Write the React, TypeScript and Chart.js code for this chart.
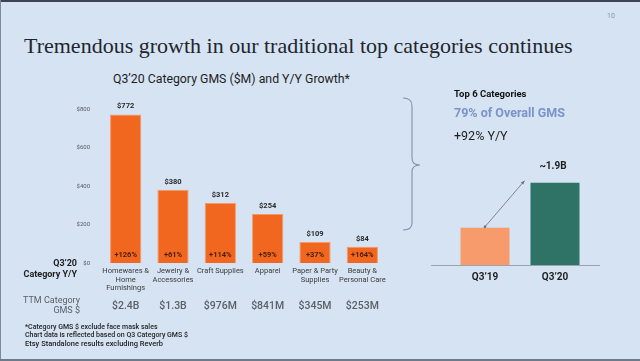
import React, { useEffect, useRef } from "react";
import { Chart, registerables } from "chart.js";

Chart.register(...registerables);

const categories: string[][] = [
  ["Homewares &", "Home", "Furnishings"],
  ["Jewelry &", "Accessories"],
  ["Craft Supplies"],
  ["Apparel"],
  ["Paper & Party", "Supplies"],
  ["Beauty &", "Personal Care"],
];
const gmsValues = [772, 380, 312, 254, 109, 84];
const growthLabels = ["+126%", "+61%", "+114%", "+59%", "+37%", "+164%"];
const ttmLabels = ["$2.4B", "$1.3B", "$976M", "$841M", "$345M", "$253M"];
const yTickMax = 800;
const yTickStep = 200;

const totalPeriods = ["Q3’19", "Q3’20"];
const totalValues = [0.86, 1.9];
const totalTopLabel = "~1.9B";

const FONT = "Roboto, 'Noto Sans', sans-serif";

const leftLabelsPlugin = {
  id: "leftLabels",
  afterDatasetsDraw(chart: any) {
    const ctx = chart.ctx;
    const meta = chart.getDatasetMeta(0);
    const area = chart.chartArea;
    ctx.save();
    ctx.textAlign = "center";
    ctx.textBaseline = "middle";
    meta.data.forEach((bar: any, i: number) => {
      ctx.font = `bold 7.5px ${FONT}`;
      ctx.fillStyle = "#2a2a2a";
      ctx.fillText("$" + gmsValues[i], bar.x, bar.y - 8);
      ctx.fillStyle = "#4a1c0a";
      ctx.fillText(growthLabels[i], bar.x, area.bottom - 7.5);
      ctx.font = `500 10.5px ${FONT}`;
      ctx.fillStyle = "#5b6066";
      ctx.fillText(ttmLabels[i], bar.x, 216);
    });
    ctx.restore();
  },
};

const rightLabelsPlugin = {
  id: "rightLabels",
  afterDatasetsDraw(chart: any) {
    const ctx = chart.ctx;
    const meta = chart.getDatasetMeta(0);
    const b0 = meta.data[0];
    const b1 = meta.data[1];
    ctx.save();
    ctx.textAlign = "center";
    ctx.textBaseline = "middle";
    ctx.font = `bold 10px ${FONT}`;
    ctx.fillStyle = "#1e1e1e";
    ctx.fillText(totalTopLabel, b1.x - 2, b1.y - 16);
    const x0 = b0.x;
    const y0 = b0.y - 1;
    const x1 = b1.x - b1.width / 2 - 6;
    const y1 = b1.y - 2;
    ctx.strokeStyle = "#666d75";
    ctx.fillStyle = "#666d75";
    ctx.lineWidth = 0.8;
    ctx.beginPath();
    ctx.moveTo(x0, y0);
    ctx.lineTo(x1, y1);
    ctx.stroke();
    ctx.beginPath();
    ctx.arc(x0, y0, 1.3, 0, Math.PI * 2);
    ctx.fill();
    const ang = Math.atan2(y1 - y0, x1 - x0);
    ctx.beginPath();
    ctx.moveTo(x1, y1);
    ctx.lineTo(x1 - 4 * Math.cos(ang - 0.4), y1 - 4 * Math.sin(ang - 0.4));
    ctx.lineTo(x1 - 4 * Math.cos(ang + 0.4), y1 - 4 * Math.sin(ang + 0.4));
    ctx.closePath();
    ctx.fill();
    ctx.restore();
  },
};

function LeftChart() {
  const ref = useRef<HTMLCanvasElement>(null);
  useEffect(() => {
    const chart = new Chart(ref.current as HTMLCanvasElement, {
      type: "bar",
      data: {
        labels: categories,
        datasets: [
          {
            data: gmsValues,
            backgroundColor: "#f2671f",
            borderColor: "#f49a66",
            borderWidth: 1,
            categoryPercentage: 1,
            barPercentage: 0.66,
          },
        ],
      },
      options: {
        responsive: false,
        animation: false,
        devicePixelRatio: 1,
        layout: { padding: { top: 19, right: 14, left: 0, bottom: 0 } },
        plugins: { legend: { display: false }, tooltip: { enabled: false } },
        scales: {
          x: {
            grid: { display: false, drawTicks: false },
            border: { display: false },
            afterFit: (s: any) => {
              s.height = 52;
            },
            ticks: {
              autoSkip: false,
              maxRotation: 0,
              minRotation: 0,
              padding: 4,
              color: "#3c3c3c",
              font: { family: FONT, size: 7.5, lineHeight: 1.15 },
            },
          },
          y: {
            min: 0,
            max: yTickMax,
            grid: { display: false, drawTicks: false },
            border: { display: false },
            afterFit: (s: any) => {
              s.width = 102;
            },
            ticks: {
              stepSize: yTickStep,
              padding: 12,
              color: "#5a5a5a",
              font: { family: FONT, size: 6 },
              callback: (v: any) => "$" + v,
            },
          },
        },
      },
      plugins: [leftLabelsPlugin],
    } as any);
    return () => chart.destroy();
  }, []);
  return (
    <canvas
      ref={ref}
      width={400}
      height={225}
      style={{ position: "absolute", left: 0, top: 90, width: 400, height: 225 }}
    />
  );
}

function RightChart() {
  const ref = useRef<HTMLCanvasElement>(null);
  useEffect(() => {
    const chart = new Chart(ref.current as HTMLCanvasElement, {
      type: "bar",
      data: {
        labels: totalPeriods,
        datasets: [
          {
            data: totalValues,
            backgroundColor: ["#f89b6c", "#2e7366"],
            categoryPercentage: 1,
            barPercentage: 0.7,
          },
        ],
      },
      options: {
        responsive: false,
        animation: false,
        devicePixelRatio: 1,
        layout: { padding: { top: 28.4, right: 50, left: 10, bottom: 0 } },
        plugins: { legend: { display: false }, tooltip: { enabled: false } },
        scales: {
          x: {
            grid: { display: false, drawTicks: false },
            border: { display: false },
            afterFit: (s: any) => {
              s.height = 35;
            },
            ticks: {
              padding: 6,
              color: "#1e1e1e",
              font: { family: FONT, size: 10, weight: "bold" },
            },
          },
          y: { display: false, min: 0, max: 2 },
        },
      },
      plugins: [rightLabelsPlugin],
    } as any);
    return () => chart.destroy();
  }, []);
  return (
    <canvas
      ref={ref}
      width={200}
      height={150}
      style={{ position: "absolute", left: 440, top: 150, width: 200, height: 150 }}
    />
  );
}

const txt = (extra: React.CSSProperties): React.CSSProperties => ({
  position: "absolute",
  whiteSpace: "nowrap",
  fontFamily: FONT,
  margin: 0,
  ...extra,
});

export default function App() {
  return (
    <div
      style={{
        position: "fixed",
        left: 0,
        top: 0,
        width: 640,
        height: 361,
        background: "#d5e3f2",
        overflow: "hidden",
      }}
    >
      <div style={{ position: "absolute", left: 0, top: 0, width: 640, height: 2, background: "#3a4552" }} />
      <div style={{ position: "absolute", left: 0, top: 0, width: 1, height: 361, background: "#7d8a98" }} />
      <div style={{ position: "absolute", left: 0, top: 359, width: 640, height: 2, background: "#6e7a88" }} />

      <div style={txt({ left: 607, top: 12, fontSize: 7, color: "#8a96a4" })}>10</div>

      <div
        style={txt({
          left: 24,
          top: 32,
          fontSize: 22,
          lineHeight: "28px",
          fontFamily: "'Liberation Serif', 'DejaVu Serif', serif",
          color: "#1f262e",
        })}
      >
        Tremendous growth in our traditional top categories continues
      </div>

      <div style={txt({ left: 113, top: 72, fontSize: 12.3, lineHeight: "14px", color: "#1e1e1e" })}>
        Q3’20 Category GMS ($M) and Y/Y Growth*
      </div>

      <LeftChart />

      <div
        style={txt({
          left: 0,
          width: 77,
          top: 258,
          fontSize: 9,
          lineHeight: "11px",
          fontWeight: 700,
          color: "#1e1e1e",
          textAlign: "right",
        })}
      >
        Q3’20
        <br />
        Category Y/Y
      </div>

      <div
        style={txt({
          left: 0,
          width: 80,
          top: 296,
          fontSize: 9,
          lineHeight: "9.5px",
          color: "#5b6066",
          textAlign: "right",
        })}
      >
        TTM Category
        <br />
        GMS $
      </div>

      <div
        style={txt({
          left: 25,
          top: 324,
          fontSize: 7,
          lineHeight: "7.8px",
          fontWeight: 500,
          color: "#1e1e1e",
        })}
      >
        *Category GMS $ exclude face mask sales
        <br />
        Chart data is reflected based on Q3 Category GMS $
        <br />
        <span style={{ fontSize: 7.5 }}>Etsy Standalone results excluding Reverb</span>
      </div>

      <svg width={640} height={361} style={{ position: "absolute", left: 0, top: 0 }}>
        <path
          d="M403 98 Q412 98 412 106 L412 158 Q412 165 420 165 Q412 165 412 172 L412 223 Q412 230 403 230"
          fill="none"
          stroke="#8593a6"
          strokeWidth={1.1}
        />
      </svg>

      <div style={txt({ left: 454, top: 88, fontSize: 9.5, lineHeight: "11px", fontWeight: 700, color: "#111" })}>
        Top 6 Categories
      </div>
      <div style={txt({ left: 454, top: 105, fontSize: 12.5, lineHeight: "15px", fontWeight: 700, color: "#7b93c8" })}>
        79% of Overall GMS
      </div>
      <div style={txt({ left: 454, top: 128, fontSize: 12.5, lineHeight: "15px", color: "#1e1e1e" })}>
        +92% Y/Y
      </div>

      <RightChart />
      <div style={{ position: "absolute", left: 431, top: 264.5, width: 169, height: 1.2, background: "#98a4b2" }} />
    </div>
  );
}
